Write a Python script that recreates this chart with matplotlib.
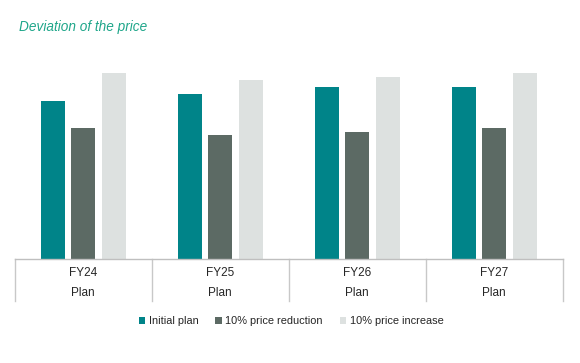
import matplotlib
matplotlib.use("Agg")
import matplotlib.pyplot as plt
import numpy as np
from matplotlib.transforms import blended_transform_factory

categories = ["FY24", "FY25", "FY26", "FY27"]
sub_labels = ["Plan", "Plan", "Plan", "Plan"]
series_names = ["Initial plan", "10% price reduction", "10% price increase"]
initial_plan = [158, 165, 172, 172]
price_reduction = [131, 124, 127, 131]
price_increase = [186, 179, 182, 186]

colors = ["#008489", "#5c6a64", "#dde1e0"]
plt.rcParams['font.family'] = ['Liberation Sans', 'DejaVu Sans']

fig = plt.figure(figsize=(5.8, 3.63), dpi=100)
W, H = 580, 363
left_px, right_px, top_px, base_px = 14.7, 562.7, 60, 259
ax = fig.add_axes([left_px / W, (H - base_px) / H, (right_px - left_px) / W, (base_px - top_px) / H])

x = np.arange(len(categories))
step = 0.223
width = 0.176
handles = []
for i, (vals, name, c) in enumerate(zip([initial_plan, price_reduction, price_increase], series_names, colors)):
    b = ax.bar(x + (i - 1) * step, vals, width=width, color=c, label=name, zorder=2)
    handles.append(b)

ax.set_xlim(-0.5, len(categories) - 0.5)
ax.set_ylim(0, base_px - top_px)
for s in ["top", "right", "left"]:
    ax.spines[s].set_visible(False)
ax.spines["bottom"].set_color("#bfbfbf")
ax.spines["bottom"].set_linewidth(1.0)
ax.set_yticks([])
ax.set_xticks([])

trans = blended_transform_factory(ax.transData, ax.transAxes)
h_ax = base_px - top_px
for i, (cat, sub) in enumerate(zip(categories, sub_labels)):
    ax.text(i, -(273 - base_px) / h_ax, cat, transform=trans, ha="center", va="center",
            fontsize=8.5, color="#262626")
    ax.text(i, -(293 - base_px) / h_ax, sub, transform=trans, ha="center", va="center",
            fontsize=8.5, color="#262626")
for b in np.arange(-0.5, len(categories), 1.0):
    ax.plot([b, b], [0, -(301 - base_px) / h_ax], transform=trans, color="#c8c8c8",
            lw=1.0, clip_on=False)

fig.text(19 / W, 1 - 27 / H, "Deviation of the price", fontsize=9.8, style="italic",
         color="#1fa68a", ha="left", va="center")

leg = fig.legend(handles=handles, labels=series_names, loc="center",
                 bbox_to_anchor=(291 / W, 1 - 321 / H), ncol=3, frameon=False,
                 fontsize=7.9, handlelength=0.6, handleheight=0.6, handletextpad=0.3,
                 columnspacing=1.55, labelcolor="#262626")

fig.savefig("out.png", dpi=100)
